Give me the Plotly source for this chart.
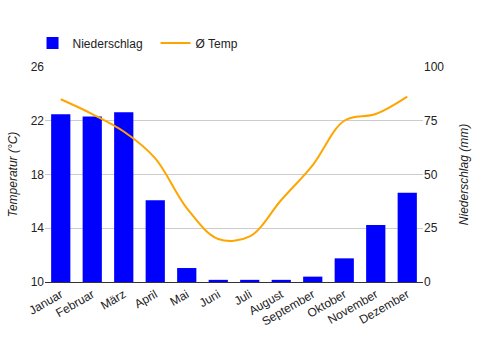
import plotly.graph_objects as go

months = ["Januar", "Februar", "März", "April", "Mai", "Juni", "Juli",
          "August", "September", "Oktober", "November", "Dezember"]
niederschlag = [78, 77, 79, 38, 6.5, 1, 1, 1, 2.5, 11, 26.5, 41.5]
temp = [23.6, 22.5, 21.2, 19.2, 15.5, 13.2, 13.4, 16.1, 18.7, 22.0, 22.5, 23.8]
temp_ticks = [10, 14, 18, 22, 26]
rain_ticks = [0, 25, 50, 75, 100]

font = "Liberation Sans, Arial, sans-serif"

fig = go.Figure()
fig.add_trace(go.Bar(x=months, y=niederschlag, name="Niederschlag",
                     marker=dict(color="#0000ff", line=dict(width=0)),
                     yaxis="y"))
fig.add_trace(go.Scatter(x=months, y=temp, name="Ø Temp", mode="lines",
                         line=dict(color="#ffa500", width=2, shape="spline", smoothing=1.0),
                         yaxis="y2"))

fig.update_layout(
    width=481, height=350,
    margin=dict(l=43, r=44, t=67, b=68),
    paper_bgcolor="white", plot_bgcolor="white",
    font=dict(family=font, size=12, color="#222222"),
    bargap=0.39,
    showlegend=True,
    legend=dict(orientation="h", x=-0.033, xanchor="left", y=1.112, yanchor="middle",
                font=dict(size=12, color="#222222"), itemwidth=30,
                entrywidth=78, entrywidthmode="pixels",
                bgcolor="rgba(0,0,0,0)"),
    xaxis=dict(showgrid=False, tickangle=-30, showline=True, linecolor="#333333",
               linewidth=1, ticks="", tickfont=dict(size=12, color="#222222")),
    yaxis=dict(range=[0, 100], tickmode="array", tickvals=rain_ticks, side="right", showgrid=True,
               gridcolor="#cccccc", zeroline=False, ticks="",
               tickfont=dict(size=12, color="#222222"),
               title=dict(text="<i>Niederschlag (mm)</i>", font=dict(size=12, color="#222222"), standoff=16)),
    yaxis2=dict(range=[10, 26], tickmode="array", tickvals=temp_ticks, side="left", overlaying="y",
                showgrid=False, zeroline=False, ticks="", tickfont=dict(size=12, color="#222222"),
                title=dict(text="<i>Temperatur (°C)</i>", font=dict(size=12, color="#222222"), standoff=10)),
)

fig.write_html("out.html")
